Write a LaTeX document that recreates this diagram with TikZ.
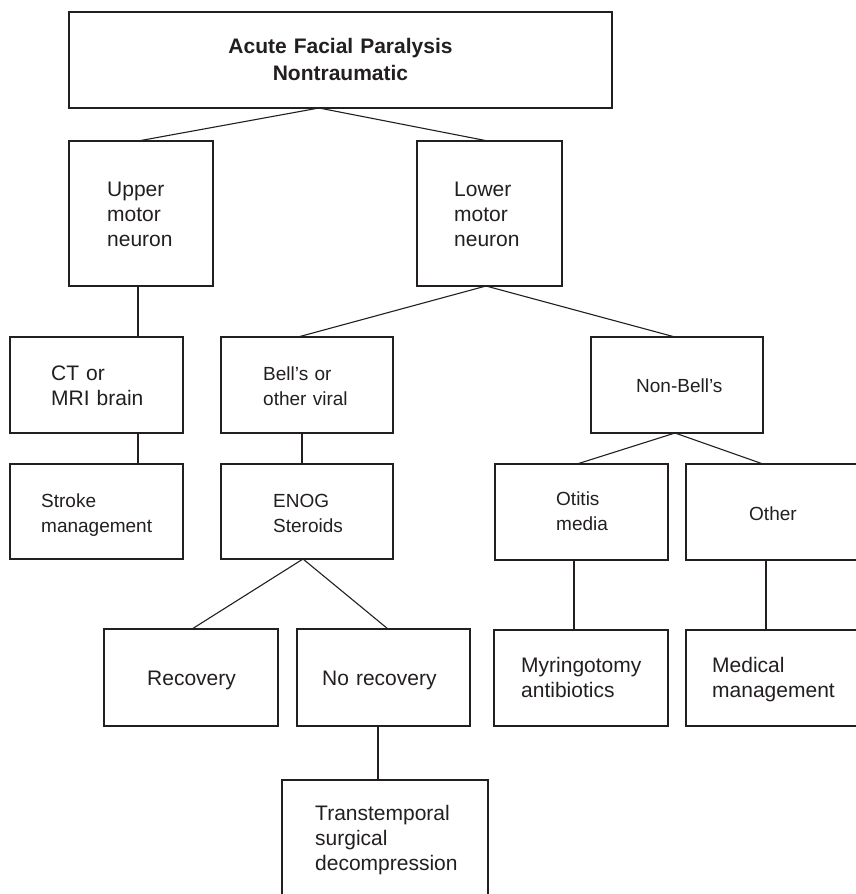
\documentclass[tikz,border=0pt]{standalone}
\usepackage{fontspec}
\setmainfont{Liberation Sans}
\definecolor{ink}{HTML}{231F20}
\begin{document}
\begin{tikzpicture}[x=1pt,y=-1pt,
  box/.style={draw=ink,line width=1.1pt,inner sep=0pt,outer sep=0pt,anchor=north west},
  txt/.style={anchor=base west,inner sep=0pt,text width=170pt,align=left,text=ink,font=\fontsize{19}{25}\selectfont},
  txtl/.style={txt,font=\fontsize{21}{25.3}\selectfont},
  ttl/.style={anchor=base,inner sep=0pt,text width=400pt,align=center,text=ink,font=\fontsize{21}{27}\selectfont\bfseries},
  link/.style={draw=ink,line width=1.1pt}]
\useasboundingbox (0,0) rectangle (856,894);
\clip (0,0) rectangle (856,894);
\fill[white] (0,0) rectangle (856,894);
% boxes
\node[box,minimum width=543pt,minimum height=96pt] (top) at (69,12) {};
\node[box,minimum width=144pt,minimum height=145pt] (upper) at (69,141) {};
\node[box,minimum width=145pt,minimum height=145pt] (lower) at (417,141) {};
\node[box,minimum width=173pt,minimum height=96pt] (ct) at (10,337) {};
\node[box,minimum width=172pt,minimum height=96pt] (bells) at (221,337) {};
\node[box,minimum width=172pt,minimum height=96pt] (nonbells) at (591,337) {};
\node[box,minimum width=173pt,minimum height=95pt] (stroke) at (10,464) {};
\node[box,minimum width=172pt,minimum height=95pt] (enog) at (221,464) {};
\node[box,minimum width=173pt,minimum height=96pt] (otitis) at (495,464) {};
\node[box,minimum width=194pt,minimum height=96pt] (other) at (686,464) {};
\node[box,minimum width=174pt,minimum height=97pt] (recovery) at (104,629) {};
\node[box,minimum width=173pt,minimum height=97pt] (norec) at (297,629) {};
\node[box,minimum width=174pt,minimum height=96pt] (myring) at (494,630) {};
\node[box,minimum width=194pt,minimum height=96pt] (medical) at (686,630) {};
\node[box,minimum width=206pt,minimum height=140pt] (trans) at (282,780) {};
% texts
\node[ttl] (ttop) at (340.5,53) {Acute Facial Paralysis\\Nontraumatic};
\node[txtl] (tupper) at (107,196) {Upper\\motor\\neuron};
\node[txtl] (tlower) at (454,196) {Lower\\motor\\neuron};
\node[txtl] (tct) at (51,380) {CT or\\MRI brain};
\node[txt] (tbells) at (263,380) {Bell’s or\\other viral};
\node[txt] (tnonbells) at (636,392) {Non-Bell’s};
\node[txt] (tstroke) at (41,507) {Stroke\\management};
\node[txt] (tenog) at (273,507) {ENOG\\Steroids};
\node[txt] (totitis) at (556,505) {Otitis\\media};
\node[txt] (tother) at (749,520) {Other};
\node[txtl] (trecovery) at (147,685) {Recovery};
\node[txtl] (tnorec) at (322,685) {No recovery};
\node[txtl] (tmyring) at (521,672) {Myringotomy\\antibiotics};
\node[txtl] (tmedical) at (712,672) {Medical\\management};
\node[txtl] (ttrans) at (315,820) {Transtemporal\\surgical\\decompression};
% connectors
\draw[link] ([xshift=-21.5pt]top.south) -- ([xshift=-3pt]upper.north);
\draw[link] ([xshift=-21.5pt]top.south) -- ([xshift=-1.5pt]lower.north);
\draw[link] ([xshift=-3pt]upper.south) -- ([xshift=41.5pt]ct.north);
\draw[link] ([xshift=-3.5pt]lower.south) -- ([xshift=-9pt]bells.north);
\draw[link] ([xshift=-3.5pt]lower.south) -- ([xshift=-2pt]nonbells.north);
\draw[link] ([xshift=41.5pt]ct.south) -- ([xshift=41.5pt]stroke.north);
\draw[link] ([xshift=-5pt]bells.south) -- ([xshift=-5pt]enog.north);
\draw[link] ([xshift=-2pt]nonbells.south) -- ([xshift=-4.5pt]otitis.north);
\draw[link] ([xshift=-2pt]nonbells.south) -- ([xshift=-20pt]other.north);
\draw[link] ([xshift=-4pt]enog.south) -- ([xshift=1pt]recovery.north);
\draw[link] ([xshift=-4pt]enog.south) -- ([xshift=4.5pt]norec.north);
\draw[link] ([xshift=-5.5pt]norec.south) -- ([xshift=-7pt]trans.north);
\draw[link] ([xshift=-7.5pt]otitis.south) -- ([xshift=-7pt]myring.north);
\draw[link] ([xshift=-17pt]other.south) -- ([xshift=-17pt]medical.north);
\end{tikzpicture}
\end{document}
